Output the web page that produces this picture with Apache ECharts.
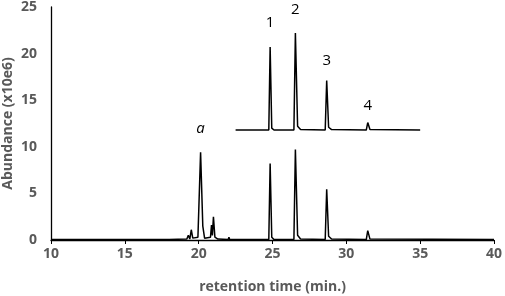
<!DOCTYPE html>
<html>
<head>
<meta charset="utf-8">
<script src="https://cdn.jsdelivr.net/npm/echarts@6/dist/echarts.min.js"></script>
<style>
  html, body { margin: 0; padding: 0; background: #fff; }
  #chart { width: 505px; height: 296px; }
</style>
</head>
<body>
<div id="chart"></div>
<script>
// lower trace: full chromatogram [time, abundance]
const lowerTrace = [
  [10, 0.05], [18, 0.05], [19.2, 0.1], [19.3, 0.5], [19.4, 0.1], [19.5, 1.1], [19.6, 0.2],
  [19.95, 0.3], [20.13, 9.4], [20.28, 1.5], [20.4, 0.2], [20.8, 0.3], [20.87, 1.6],
  [20.93, 0.5], [21.0, 2.5], [21.1, 0.3], [21.3, 0.1], [22.0, 0.05], [22.05, 0.3],
  [22.1, 0.05], [22.7, 0.05], [22.75, 0.2], [22.8, 0.05], [24.75, 0.05], [24.84, 8.2],
  [24.95, 0.3], [25.1, 0.05], [26.45, 0.05], [26.55, 9.7], [26.7, 0.5], [26.9, 0.1],
  [28.57, 0.05], [28.67, 5.45], [28.8, 0.4], [29.0, 0.1], [31.35, 0.05], [31.45, 1.0],
  [31.6, 0.1], [40, 0.05]
];
// upper trace: offset chromatogram
const upperTrace = [
  [22.5, 11.8], [24.75, 11.8], [24.84, 20.7], [24.95, 12.0], [25.1, 11.8], [26.45, 11.8],
  [26.55, 22.2], [26.7, 12.2], [26.9, 11.85], [28.57, 11.8], [28.67, 17.1], [28.8, 12.1],
  [29.0, 11.85], [31.35, 11.8], [31.45, 12.6], [31.6, 11.85], [35, 11.8]
];
// peak annotations
const peakLabels = [
  { text: '1', x: 24.84, y: 23.3 },
  { text: '2', x: 26.55, y: 24.7 },
  { text: '3', x: 28.67, y: 19.2 },
  { text: '4', x: 31.45, y: 14.4 }
];
const peakA = { text: 'a', x: 20.13, y: 11.9 };

const font = '"Open Sans", Lato, sans-serif';
const axisText = { color: '#595959', fontSize: 14, fontWeight: 'bold', fontFamily: font };

const chart = echarts.init(document.getElementById('chart'));
chart.setOption({
  animation: false,
  grid: { left: 51, right: 11, top: 7, bottom: 56, outerBoundsMode: 'none', containLabel: false },
  xAxis: {
    type: 'value', min: 10, max: 40, interval: 5,
    name: 'retention time (min.)', nameLocation: 'middle', nameGap: 40,
    nameMoveOverlap: false,
    nameTextStyle: axisText,
    axisLine: { lineStyle: { color: '#000', width: 1.3 } },
    axisTick: { show: true, length: 4, lineStyle: { color: '#000' } },
    axisLabel: Object.assign({ margin: 7 }, axisText),
    splitLine: { show: false }
  },
  yAxis: {
    type: 'value', min: 0, max: 25, interval: 5,
    name: 'Abundance (x10e6)', nameLocation: 'middle', nameGap: 36,
    nameMoveOverlap: false,
    nameTextStyle: axisText,
    axisLine: { show: true, lineStyle: { color: '#000', width: 1.3 } },
    axisTick: { show: false },
    axisLabel: Object.assign({ margin: 14 }, axisText),
    splitLine: { show: false }
  },
  series: [
    {
      type: 'line', data: lowerTrace, symbol: 'none',
      lineStyle: { color: '#000', width: 1.5 },
      markPoint: {
        symbol: 'circle', symbolSize: 1,
        itemStyle: { color: 'rgba(0,0,0,0)' },
        data: [{ coord: [peakA.x, peakA.y], value: peakA.text }],
        label: { show: true, position: 'inside', formatter: p => p.value,
          color: '#000', fontSize: 15, fontStyle: 'italic', fontFamily: font }
      }
    },
    {
      type: 'line', data: upperTrace, symbol: 'none',
      lineStyle: { color: '#000', width: 1.5 },
      markPoint: {
        symbol: 'circle', symbolSize: 1,
        itemStyle: { color: 'rgba(0,0,0,0)' },
        data: peakLabels.map(p => ({ coord: [p.x, p.y], value: p.text })),
        label: { show: true, position: 'inside', formatter: p => p.value,
          color: '#000', fontSize: 15, fontFamily: font }
      }
    }
  ]
});
</script>
</body>
</html>
